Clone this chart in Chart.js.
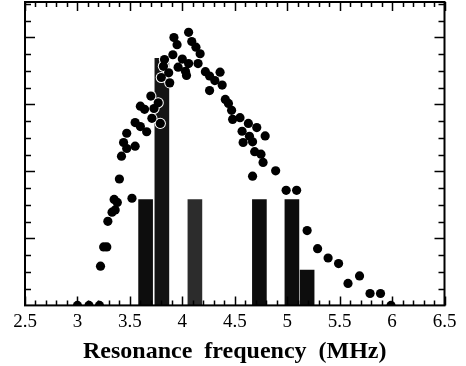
<!DOCTYPE html>
<html>
<head>
<meta charset="utf-8">
<script src="https://cdn.jsdelivr.net/npm/chart.js@4"></script>
<style>
  html, body { margin: 0; padding: 0; background: #fff; }
  #wrap { width: 466px; height: 366px; }
</style>
</head>
<body>
<div id="wrap"><canvas id="chart" width="466" height="366"></canvas></div>
<script>
/* Resonance frequency: measured points + histogram bars */

// tick labels on the frequency axis
const xTickLabels = ['2.5', '3', '3.5', '4', '4.5', '5', '5.5', '6', '6.5'];

// scattered points (MHz, arbitrary units)
const dotX = [
  3.00, 3.11, 3.21, 3.22, 3.25, 3.28, 3.29, 3.33, 3.36, 3.35, 3.38, 3.40, 3.52,
  3.42, 3.47, 3.44, 3.47, 3.55, 3.55, 3.60, 3.66, 3.60, 3.64, 3.70, 3.73, 3.77,
  3.71, 3.79, 3.80, 3.83, 3.82, 3.87, 3.88, 3.91, 3.92, 3.95, 3.96, 4.00, 4.03,
  4.04, 4.06, 4.06, 4.09, 4.13, 4.17, 4.15, 4.22, 4.26, 4.31, 4.36, 4.38, 4.26,
  4.41, 4.44, 4.47, 4.48, 4.55, 4.63, 4.71, 4.57, 4.64, 4.79, 4.58, 4.67, 4.69,
  4.75, 4.77, 4.89, 4.67, 4.99, 5.09, 5.19, 5.29, 5.39, 5.49, 5.58, 5.69, 5.79,
  5.89, 5.99
];
const dotY = [
  0, 0, 0, 2.34, 3.49, 3.49, 5.02, 5.57, 5.70, 6.33, 6.15, 7.55, 6.40,
  8.91, 9.37, 9.73, 10.28, 9.51, 10.92, 10.68, 10.37, 11.90, 11.71, 12.50, 11.76, 12.10,
  11.17, 10.87, 13.61, 14.68, 14.28, 13.89, 13.29, 14.97, 16.00, 15.57, 14.23, 14.71, 13.98,
  13.73, 14.44, 16.31, 15.76, 15.42, 15.03, 14.44, 13.96, 13.70, 13.43, 13.93, 13.16, 12.83,
  12.30, 12.06, 11.65, 11.11, 11.21, 10.87, 10.62, 10.40, 10.10, 10.12, 9.73, 9.77, 9.18,
  9.03, 8.54, 8.04, 7.72, 6.87, 6.87, 4.47, 3.39, 2.83, 2.50, 1.31, 1.76, 0.71,
  0.71, 0
];

// histogram bars (centre in MHz, count)
const barX = [3.65, 3.805, 4.12, 4.735, 5.045, 5.19];
const barCount = [3, 7, 3, 3, 3, 1];
const barColors = ['#0d0d0d', '#141414', '#2c2c2c', '#0d0d0d', '#0d0d0d', '#0d0d0d'];

const points = dotX.map((x, i) => ({ x, y: dotY[i] }));
const bars = barX.map((x, i) => ({ x, y: barCount[i] }));

const SERIF = "'Liberation Serif', 'DejaVu Serif', serif";

// box around the plot with inward ticks, like the original figure
const framePlugin = {
  id: 'frame',
  afterDraw(chart) {
    const { ctx, chartArea: a, scales: { x, y } } = chart;
    ctx.save();
    ctx.strokeStyle = '#000';
    ctx.lineWidth = 1.5;
    ctx.beginPath();
    for (let i = 0; i <= 40; i++) {
      const px = Math.round(x.getPixelForValue(2.5 + i * 0.1)) + 0.5;
      const len = i % 5 === 0 ? 9 : 5;
      ctx.moveTo(px, a.bottom); ctx.lineTo(px, a.bottom - len);
      ctx.moveTo(px, a.top);    ctx.lineTo(px, a.top + len);
    }
    for (let j = 1; j <= 18; j++) {
      const py = Math.round(y.getPixelForValue(j)) + 0.5;
      const len = j % 4 === 0 ? 10 : 6;
      ctx.moveTo(a.left, py);  ctx.lineTo(a.left + len, py);
      ctx.moveTo(a.right, py); ctx.lineTo(a.right - len, py);
    }
    ctx.stroke();
    ctx.lineWidth = 2;
    ctx.strokeRect(a.left, a.top, a.right - a.left, a.bottom - a.top);
    ctx.restore();
  }
};

new Chart(document.getElementById('chart'), {
  type: 'scatter',
  data: {
    datasets: [
      {
        type: 'scatter', data: points, order: 0,
        pointRadius: 4.6, pointBackgroundColor: '#000', pointBorderWidth: 0,
      },
      {
        // white halo under the dots, only shows where they sit on a bar
        type: 'scatter', data: points, order: 1,
        pointRadius: 5.6, pointBackgroundColor: '#fff', pointBorderWidth: 0,
      },
      {
        type: 'bar', data: bars, yAxisID: 'yb', order: 2,
        backgroundColor: barColors, barThickness: 14, grouped: false,
      },
    ]
  },
  options: {
    responsive: false,
    animation: false,
    events: [],
    layout: { autoPadding: false, padding: { left: 25, right: 21.5, top: 2, bottom: 0 } },
    plugins: { legend: { display: false }, tooltip: { enabled: false } },
    scales: {
      x: {
        type: 'linear', min: 2.5, max: 6.5, offset: false,
        grid: { display: false, drawTicks: false },
        border: { display: false },
        ticks: {
          stepSize: 0.5, autoSkip: false, maxRotation: 0, padding: 7,
          color: '#000', font: { family: SERIF, size: 19, lineHeight: 1 },
          callback: (v, i) => xTickLabels[i],
        },
        title: {
          display: true, text: 'Resonance  frequency  (MHz)', color: '#000',
          font: { family: SERIF, size: 24, weight: 'bold', lineHeight: 1.15 },
          padding: { top: 0, bottom: 0 },
        },
      },
      y:  { display: false, min: 0, max: 18.12 },
      yb: { display: false, min: 0, max: 8.6 },
    }
  },
  plugins: [framePlugin]
});
</script>
</body>
</html>
